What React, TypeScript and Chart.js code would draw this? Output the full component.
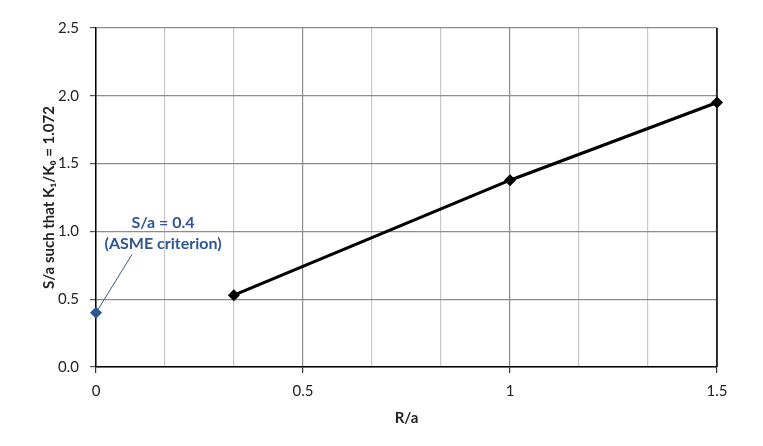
import React, { useEffect, useRef } from "react";
import { Chart, registerables } from "chart.js";

Chart.register(...registerables);

// Data
const R_A = [0.333, 1, 1.5];
const S_A = [0.53, 1.378, 1.95];
const ASME_R = [0];
const ASME_S = [0.4];

// Axis ticks
const X_GRID_VALUES = [0, 0.1667, 0.3333, 0.5, 0.6667, 0.8333, 1, 1.1667, 1.3333, 1.5];
const X_TICK_VALUES = [0, 0.5, 1, 1.5];
const X_TICK_LABELS = ["0", "0.5", "1", "1.5"];

// Annotation (data coordinates)
const NOTE_LINES = ["S/a = 0.4", "(ASME criterion)"];
const NOTE_X = 0.162;
const NOTE_Y = [1.065, 0.91];
const LEADER_END = { x: 0.087, y: 0.83 };

const FONT = "Lato, 'Open Sans', sans-serif";
const BLUE = "#2F5597";

const majorIdx = (v: number) => X_TICK_VALUES.findIndex((t) => Math.abs(t - v) < 1e-3);

const annotationPlugin = {
  id: "asmeNote",
  afterDatasetsDraw(chart: any) {
    const { ctx, scales, chartArea } = chart;
    const xs = scales.x;
    const ys = scales.y;
    ctx.save();
    // right border
    ctx.strokeStyle = "#000";
    ctx.lineWidth = 1.5;
    ctx.beginPath();
    ctx.moveTo(chartArea.right, chartArea.top);
    ctx.lineTo(chartArea.right, chartArea.bottom);
    ctx.stroke();
    // leader line
    ctx.strokeStyle = "#3B5B86";
    ctx.lineWidth = 1;
    ctx.beginPath();
    ctx.moveTo(xs.getPixelForValue(ASME_R[0]), ys.getPixelForValue(ASME_S[0]));
    ctx.lineTo(xs.getPixelForValue(LEADER_END.x), ys.getPixelForValue(LEADER_END.y));
    ctx.stroke();
    // text
    ctx.fillStyle = BLUE;
    ctx.font = `bold 16px ${FONT}`;
    ctx.textAlign = "center";
    ctx.textBaseline = "middle";
    NOTE_LINES.forEach((t, i) => {
      ctx.fillText(t, xs.getPixelForValue(NOTE_X), ys.getPixelForValue(NOTE_Y[i]));
    });
    ctx.restore();
  },
};

export default function App() {
  const ref = useRef<HTMLCanvasElement | null>(null);

  useEffect(() => {
    document.body.style.margin = "0";
    const canvas = ref.current!;
    const chart = new Chart(canvas, {
      type: "scatter",
      data: {
        datasets: [
          {
            label: "S/a",
            data: R_A.map((x, i) => ({ x, y: S_A[i] })),
            showLine: true,
            borderColor: "#000",
            backgroundColor: "#000",
            borderWidth: 3.2,
            pointStyle: "rectRot",
            pointRadius: 6,
            pointBorderWidth: 0,
            clip: false,
            order: 1,
          },
          {
            label: "ASME",
            data: ASME_R.map((x, i) => ({ x, y: ASME_S[i] })),
            showLine: false,
            borderColor: BLUE,
            backgroundColor: BLUE,
            pointStyle: "rectRot",
            pointRadius: 6,
            pointBorderWidth: 0,
            clip: false,
            order: 0,
          },
        ],
      },
      options: {
        responsive: false,
        animation: false,
        devicePixelRatio: 1,
        layout: { padding: { left: 0, right: 46, top: 28, bottom: 0 } },
        plugins: { legend: { display: false }, tooltip: { enabled: false } },
        scales: {
          x: {
            type: "linear",
            min: 0,
            max: 1.5,
            afterBuildTicks: (scale: any) => {
              scale.ticks = X_GRID_VALUES.map((v) => ({ value: v }));
            },
            afterFit: (scale: any) => {
              scale.height = 79;
            },
            ticks: {
              autoSkip: false,
              maxRotation: 0,
              padding: 9,
              color: "#222",
              font: { family: FONT, size: 15 },
              callback: (v: any) => {
                const i = majorIdx(Number(v));
                return i >= 0 ? X_TICK_LABELS[i] : "";
              },
            },
            grid: {
              color: (c: any) => {
                const v = c.tick ? c.tick.value : 0;
                return majorIdx(v) >= 0 ? "#8C8C8C" : "#C8C8C8";
              },
              tickColor: (c: any) => {
                const v = c.tick ? c.tick.value : 0;
                return majorIdx(v) >= 0 ? "#333" : "rgba(0,0,0,0)";
              },
              tickLength: 6,
              lineWidth: 1.2,
            },
            border: { color: "#000", width: 1.5 },
            title: {
              display: true,
              text: "R/a",
              color: "#222",
              font: { family: FONT, size: 15, weight: "bold" },
              padding: { top: 0, bottom: 19 },
            },
          },
          y: {
            type: "linear",
            min: 0,
            max: 2.5,
            afterFit: (scale: any) => {
              scale.width = 96;
            },
            ticks: {
              stepSize: 0.5,
              padding: 11,
              color: "#222",
              font: { family: FONT, size: 15 },
              callback: (v: any) => Number(v).toFixed(1),
            },
            grid: {
              color: "#8C8C8C",
              tickColor: "#555",
              tickLength: 6,
              lineWidth: 1.2,
            },
            border: { color: "#000", width: 1.5 },
            title: {
              display: true,
              text: "S/a such that K\u2081/K\u2080 = 1.072",
              color: "#222",
              font: { family: FONT, size: 15, weight: "bold" },
              padding: { top: 40, bottom: 0 },
            },
          },
        },
      },
      plugins: [annotationPlugin],
    } as any);
    return () => chart.destroy();
  }, []);

  return (
    <div style={{ position: "absolute", left: 0, top: 0, width: 763, height: 446, background: "#fff" }}>
      <canvas ref={ref} width={763} height={446} style={{ width: 763, height: 446 }} />
    </div>
  );
}
